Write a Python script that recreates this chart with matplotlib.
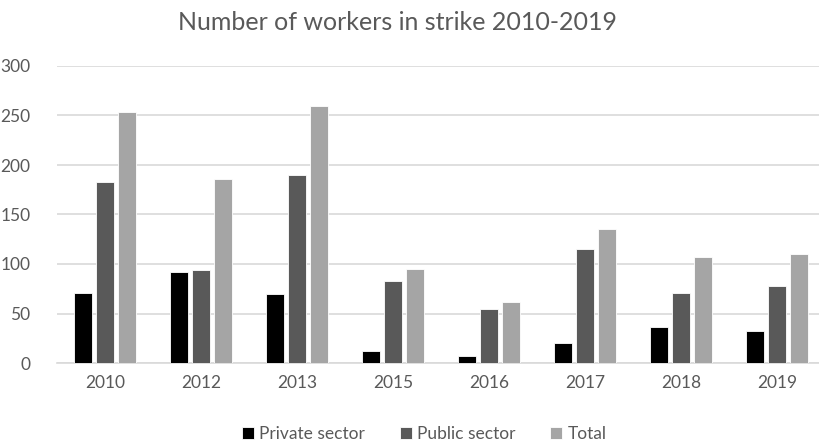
import numpy as np
import matplotlib.pyplot as plt

# Données
years = ['2010', '2012', '2013', '2015', '2016', '2017', '2018', '2019']
private_sector = [71, 92, 70, 12, 7, 20, 36, 32]
public_sector = [183, 94, 190, 83, 55, 115, 71, 78]
total = [254, 186, 260, 95, 62, 135, 107, 110]

plt.rcParams['font.family'] = ['Lato', 'DejaVu Sans']
text_color = '#595959'

fig = plt.figure(figsize=(8.19, 4.45), dpi=100)
W, H = 819, 445
ax = fig.add_axes([57 / W, (H - 363) / H, 768 / W, (363 - 66) / H])

x = np.arange(len(years))
w = 0.18
step = 0.23
ax.bar(x - step, private_sector, w, color='#000000', edgecolor='white', linewidth=0.6, label='Private sector', zorder=3)
ax.bar(x, public_sector, w, color='#595959', edgecolor='white', linewidth=0.6, label='Public sector', zorder=3)
ax.bar(x + step, total, w, color='#A5A5A5', edgecolor='white', linewidth=0.6, label='Total', zorder=3)

ax.set_xlim(-0.5, len(years) - 0.5)
ax.set_ylim(0, 300)
ax.set_yticks(range(0, 301, 50))
ax.set_xticks(x)
ax.set_xticklabels(years)
ax.yaxis.grid(True, color='#D9D9D9', linewidth=1.2, zorder=0)
ax.tick_params(axis='both', length=0, labelsize=12.5, colors=text_color, pad=9)
ax.tick_params(axis='y', pad=19)
for side in ['top', 'right', 'left']:
    ax.spines[side].set_visible(False)
ax.spines['bottom'].set_color('#D9D9D9')
ax.spines['bottom'].set_linewidth(1.2)

fig.text(398 / W, 1 - 22 / H, 'Number of workers in strike 2010-2019', ha='center', va='center',
         fontsize=18, color=text_color)

fig.legend(loc='center', bbox_to_anchor=(424 / W, 1 - 434 / H), ncol=3, frameon=False,
           fontsize=12.5, handlelength=0.7, handleheight=0.7, handletextpad=0.3, columnspacing=2.0,
           labelcolor=text_color)

fig.savefig('out.png', dpi=100)
